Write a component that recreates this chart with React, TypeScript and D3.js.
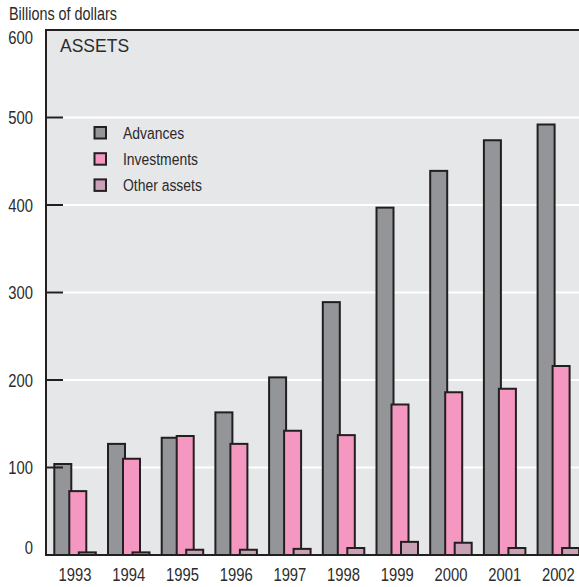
import React from "react";
import * as d3 from "d3";

const years = ["1993", "1994", "1995", "1996", "1997", "1998", "1999", "2000", "2001", "2002"];
const advances = [104, 127, 134, 163, 203, 289, 397, 439, 474, 492];
const investments = [73, 110, 136, 127, 142, 137, 172, 186, 190, 216];
const otherAssets = [3, 3, 6, 6, 7, 8, 15, 14, 8, 8];
const seriesNames = ["Advances", "Investments", "Other assets"];
const yTicks = [0, 100, 200, 300, 400, 500, 600];

const W = 579;
const H = 587;
const plot = { left: 46, top: 30, bottom: 555, right: 583 };
const colors = ["#939598", "#f498c2", "#c9a1b7"];
const ink = "#231f20";
const textInk = "#2b2b2b";
const bg = "#e6e7e8";
const font = "'Liberation Sans', Arial, sans-serif";
const squeeze = 0.8;
const seriesOffset = [0, 15, 24.5];
const barW = 17;

function CText(props: { x: number; y: number; size: number; anchor?: string; children: React.ReactNode }) {
  const { x, y, size, anchor = "start", children } = props;
  return (
    <text
      transform={`translate(${x},${y}) scale(${squeeze},1)`}
      textAnchor={anchor}
      fontFamily={font}
      fontSize={size}
      fill={textInk}
    >
      {children}
    </text>
  );
}

export default function App() {
  const series = [advances, investments, otherAssets];
  const x = d3.scaleBand<string>().domain(years).range([plot.left, plot.right]).padding(0);
  const y = d3.scaleLinear().domain([0, 600]).range([plot.bottom, plot.top]);
  const groupStart = (yr: string) => (x(yr) as number) + 8.3;

  return (
    <svg width={W} height={H} style={{ position: "absolute", left: 0, top: 0 }}>
      <rect x={plot.left} y={plot.top} width={W - plot.left} height={plot.bottom - plot.top} fill={bg} />
      {yTicks.filter((t) => t > 0 && t < 600).map((t) => (
        <line key={"g" + t} x1={plot.left} x2={W} y1={y(t)} y2={y(t)} stroke="#fff" strokeWidth={2.2} />
      ))}
      <text x={60} y={52} fontFamily={font} fontSize={17.5} fill={textInk}>ASSETS</text>
      {years.map((yr, i) => (
        <g key={yr}>
          {series.map((s, k) => (
            <rect
              key={k}
              x={groupStart(yr) + seriesOffset[k]}
              y={y(s[i])}
              width={barW}
              height={y(0) - y(s[i])}
              fill={colors[k]}
              stroke={ink}
              strokeWidth={2}
            />
          ))}
          <CText x={groupStart(yr) + (seriesOffset[2] + barW) / 2} y={581} size={18.5} anchor="middle">
            {yr}
          </CText>
        </g>
      ))}
      {yTicks.filter((t) => t > 0 && t < 600).map((t) => (
        <line key={"t" + t} x1={plot.left} x2={63} y1={y(t)} y2={y(t)} stroke={ink} strokeWidth={2} />
      ))}
      <line x1={plot.left} x2={W} y1={plot.top} y2={plot.top} stroke={ink} strokeWidth={2} />
      <line x1={plot.left} x2={plot.left} y1={plot.top - 1} y2={plot.bottom + 1} stroke={ink} strokeWidth={2} />
      <line x1={plot.left} x2={W} y1={plot.bottom} y2={plot.bottom} stroke={ink} strokeWidth={2} />
      {yTicks.map((t, i) => (
        <CText
          key={"l" + t}
          x={33}
          y={y(t) + (i === 0 ? -1 : i === yTicks.length - 1 ? 14 : 6.5)}
          size={18.5}
          anchor="end"
        >
          {t}
        </CText>
      ))}
      <CText x={9} y={19.5} size={18}>Billions of dollars</CText>
      {seriesNames.map((n, k) => (
        <g key={n}>
          <rect x={94.5} y={127 + k * 26.2} width={11.5} height={11.5} fill={colors[k]} stroke={ink} strokeWidth={2} />
          <CText x={123} y={139 + k * 26.2} size={17.4}>{n}</CText>
        </g>
      ))}
    </svg>
  );
}
